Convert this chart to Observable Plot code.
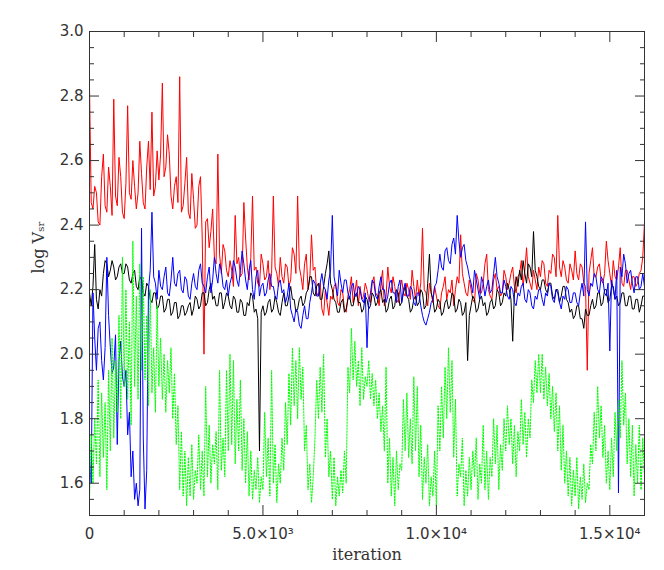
<!DOCTYPE html>
<html>
<head>
<meta charset="utf-8">
<script src="https://cdn.jsdelivr.net/npm/d3@7"></script>
<script src="https://cdn.jsdelivr.net/npm/@observablehq/plot@0.6"></script>
<style>
  html, body { margin: 0; padding: 0; background: #fff; }
  #chart svg { display: block; }
</style>
</head>
<body>
<div id="chart"></div>
<script>
// x grid: iteration number of each stored sample (every 50 iterations)
const iterations = d3.range(0, 16001, 50);

const redTrace = [
 2.83, 2.47, 2.45, 2.52, 2.50, 2.41, 2.40, 2.55, 2.62, 2.46, 2.44, 2.58, 2.52, 2.43, 2.79, 2.49, 2.46, 2.61, 2.55, 2.44,
 2.42, 2.53, 2.77, 2.50, 2.48, 2.60, 2.52, 2.45, 2.50, 2.66, 2.56, 2.47, 2.45, 2.58, 2.66, 2.51, 2.75, 2.49, 2.52, 2.63,
 2.54, 2.62, 2.84, 2.55, 2.58, 2.68, 2.62, 2.49, 2.45, 2.52, 2.55, 2.47, 2.86, 2.44, 2.46, 2.53, 2.61, 2.44, 2.42, 2.56,
 2.48, 2.39, 2.40, 2.52, 2.55, 2.36, 2.00, 2.41, 2.42, 2.33, 2.38, 2.45, 2.30, 2.28, 2.62, 2.31, 2.25, 2.34, 2.32, 2.26,
 2.24, 2.29, 2.26, 2.21, 2.43, 2.28, 2.30, 2.24, 2.25, 2.47, 2.36, 2.27, 2.23, 2.30, 2.49, 2.26, 2.27, 2.22, 2.21, 2.31,
 2.28, 2.23, 2.24, 2.29, 2.20, 2.25, 2.49, 2.27, 2.25, 2.21, 2.30, 2.24, 2.22, 2.28, 2.27, 2.21, 2.23, 2.33, 2.31, 2.25,
 2.49, 2.27, 2.24, 2.20, 2.28, 2.31, 2.20, 2.23, 2.37, 2.26, 2.27, 2.19, 2.18, 2.22, 2.14, 2.12, 2.20, 2.16, 2.12, 2.18,
 2.17, 2.21, 2.22, 2.16, 2.15, 2.20, 2.19, 2.14, 2.13, 2.18, 2.20, 2.24, 2.16, 2.19, 2.23, 2.15, 2.21, 2.17, 2.18, 2.22,
 2.20, 2.17, 2.16, 2.22, 2.24, 2.19, 2.18, 2.15, 2.22, 2.26, 2.15, 2.18, 2.27, 2.21, 2.19, 2.24, 2.21, 2.17, 2.16, 2.20,
 2.23, 2.19, 2.18, 2.22, 2.20, 2.17, 2.26, 2.21, 2.17, 2.23, 2.18, 2.22, 2.39, 2.20, 2.19, 2.15, 2.22, 2.19, 2.16, 2.21,
 2.18, 2.15, 2.14, 2.19, 2.21, 2.24, 2.17, 2.20, 2.19, 2.23, 2.15, 2.20, 2.24, 2.22, 2.37, 2.25, 2.22, 2.19, 2.18, 2.23,
 2.20, 2.17, 2.16, 2.25, 2.23, 2.19, 2.19, 2.22, 2.28, 2.31, 2.20, 2.18, 2.17, 2.23, 2.25, 2.20, 2.21, 2.18, 2.19, 2.26,
 2.24, 2.20, 2.22, 2.25, 2.27, 2.21, 2.19, 2.24, 2.25, 2.29, 2.21, 2.26, 2.33, 2.24, 2.22, 2.20, 2.26, 2.23, 2.20, 2.27,
 2.24, 2.29, 2.28, 2.22, 2.21, 2.26, 2.25, 2.31, 2.30, 2.24, 2.43, 2.27, 2.24, 2.29, 2.27, 2.23, 2.22, 2.28, 2.26, 2.23,
 2.32, 2.25, 2.23, 2.28, 2.27, 2.22, 2.21, 1.95, 2.25, 2.29, 2.33, 2.24, 2.24, 2.27, 2.28, 2.23, 2.22, 2.25, 2.35, 2.29,
 2.25, 2.21, 2.29, 2.24, 2.23, 2.27, 2.33, 2.22, 2.21, 2.26, 2.26, 2.23, 2.20, 2.24, 2.24, 2.21, 2.22, 2.25, 2.26, 2.30,
 2.41];

const blackTrace = [
 2.19, 2.15, 2.21, 2.34, 2.17, 2.14, 2.20, 2.18, 2.25, 2.29, 2.28, 2.24, 2.26, 2.29, 2.27, 2.23, 2.24, 2.27, 2.28, 2.25,
 2.25, 2.28, 2.27, 2.23, 2.22, 2.25, 2.26, 2.21, 2.20, 2.24, 2.23, 2.19, 2.18, 2.22, 2.21, 2.17, 2.16, 2.19, 2.19, 2.14,
 2.15, 2.18, 2.18, 2.13, 2.14, 2.17, 2.17, 2.12, 2.13, 2.16, 2.16, 2.11, 2.12, 2.15, 2.15, 2.12, 2.13, 2.15, 2.16, 2.12,
 2.14, 2.18, 2.17, 2.14, 2.15, 2.19, 2.19, 2.15, 2.16, 2.20, 2.22, 2.17, 2.18, 2.15, 2.15, 2.19, 2.19, 2.14, 2.16, 2.19,
 2.18, 2.15, 2.14, 2.18, 2.17, 2.13, 2.13, 2.17, 2.16, 2.12, 2.12, 2.16, 2.15, 2.19, 2.18, 2.13, 2.14, 2.11, 1.70, 2.13,
 2.15, 2.12, 2.13, 2.16, 2.17, 2.13, 2.14, 2.18, 2.16, 2.13, 2.12, 2.16, 2.19, 2.15, 2.15, 2.18, 2.21, 2.17, 2.17, 2.13,
 2.14, 2.17, 2.18, 2.15, 2.16, 2.19, 2.20, 2.24, 2.24, 2.19, 2.18, 2.21, 2.22, 2.17, 2.17, 2.21, 2.25, 2.28, 2.32, 2.22,
 2.20, 2.17, 2.16, 2.13, 2.13, 2.16, 2.17, 2.13, 2.14, 2.17, 2.18, 2.15, 2.15, 2.18, 2.19, 2.16, 2.16, 2.13, 2.14, 2.18,
 2.17, 2.14, 2.15, 2.19, 2.18, 2.15, 2.16, 2.19, 2.20, 2.16, 2.17, 2.13, 2.14, 2.17, 2.18, 2.14, 2.15, 2.20, 2.19, 2.15,
 2.16, 2.19, 2.21, 2.18, 2.17, 2.13, 2.14, 2.17, 2.18, 2.15, 2.16, 2.20, 2.19, 2.14, 2.15, 2.22, 2.31, 2.19, 2.17, 2.13,
 2.14, 2.17, 2.16, 2.12, 2.13, 2.16, 2.17, 2.14, 2.15, 2.19, 2.18, 2.13, 2.14, 2.17, 2.16, 2.12, 2.13, 2.16, 1.98, 2.12,
 2.15, 2.18, 2.17, 2.13, 2.14, 2.17, 2.18, 2.15, 2.16, 2.12, 2.13, 2.16, 2.17, 2.14, 2.15, 2.20, 2.19, 2.15, 2.16, 2.19,
 2.18, 2.22, 2.20, 2.17, 2.04, 2.19, 2.24, 2.21, 2.26, 2.23, 2.29, 2.25, 2.22, 2.28, 2.27, 2.24, 2.38, 2.26, 2.24, 2.21,
 2.20, 2.23, 2.23, 2.20, 2.19, 2.22, 2.22, 2.18, 2.17, 2.20, 2.20, 2.16, 2.18, 2.21, 2.21, 2.17, 2.16, 2.13, 2.14, 2.11,
 2.12, 2.15, 2.15, 2.11, 2.11, 2.08, 2.14, 2.12, 2.12, 2.15, 2.17, 2.14, 2.15, 2.19, 2.19, 2.15, 2.16, 2.20, 2.20, 2.16,
 2.17, 2.21, 2.21, 2.17, 2.18, 2.15, 2.16, 2.19, 2.19, 2.15, 2.15, 2.18, 2.18, 2.14, 2.14, 2.17, 2.17, 2.13, 2.15, 2.18,
 2.18];

const blueTrace = [
 1.67, 1.60, 2.19, 2.05, 1.95, 2.08, 2.10, 1.98, 1.92, 2.02, 2.30, 2.12, 2.02, 1.94, 1.96, 2.06, 1.72, 1.98, 2.04, 1.93,
 1.90, 1.95, 1.75, 1.82, 1.62, 1.70, 1.55, 1.60, 1.53, 1.58, 2.39, 1.74, 1.52, 1.64, 2.20, 2.26, 2.44, 2.24, 2.22, 2.17,
 2.26, 2.21, 2.20, 2.24, 2.27, 2.19, 2.18, 2.23, 2.30, 2.22, 2.21, 2.25, 2.26, 2.20, 2.19, 2.24, 2.23, 2.18, 2.17, 2.22,
 2.25, 2.21, 2.20, 2.26, 2.28, 2.22, 2.21, 2.19, 2.24, 2.27, 2.19, 2.23, 2.30, 2.25, 2.22, 2.28, 2.26, 2.21, 2.20, 2.23,
 2.18, 2.22, 2.24, 2.29, 2.27, 2.23, 2.21, 2.26, 2.32, 2.28, 2.23, 2.20, 2.26, 2.29, 2.20, 2.17, 2.24, 2.26, 2.18, 2.21,
 2.22, 2.18, 2.19, 2.23, 2.25, 2.21, 2.21, 2.18, 2.17, 2.22, 2.23, 2.19, 2.20, 2.16, 2.18, 2.22, 2.14, 2.12, 2.10, 2.14,
 2.13, 2.09, 2.08, 2.12, 2.15, 2.11, 2.11, 2.16, 2.19, 2.23, 2.22, 2.18, 2.18, 2.22, 2.25, 2.21, 2.20, 2.17, 2.23, 2.26,
 2.43, 2.24, 2.21, 2.18, 2.26, 2.22, 2.19, 2.23, 2.23, 2.19, 2.17, 2.21, 2.22, 2.18, 2.18, 2.21, 2.20, 2.17, 2.16, 2.19,
 2.02, 2.16, 2.19, 2.23, 2.22, 2.18, 2.17, 2.21, 2.24, 2.20, 2.20, 2.16, 2.18, 2.22, 2.23, 2.19, 2.19, 2.16, 2.21, 2.23,
 2.16, 2.20, 2.22, 2.18, 2.18, 2.21, 2.20, 2.16, 2.15, 2.19, 2.19, 2.15, 2.12, 2.10, 2.09, 2.11, 2.13, 2.16, 2.17, 2.21,
 2.22, 2.26, 2.31, 2.27, 2.26, 2.32, 2.33, 2.29, 2.28, 2.34, 2.36, 2.31, 2.43, 2.35, 2.30, 2.33, 2.34, 2.29, 2.27, 2.24,
 2.22, 2.19, 2.26, 2.23, 2.20, 2.17, 2.24, 2.22, 2.18, 2.21, 2.23, 2.19, 2.20, 2.25, 2.30, 2.24, 2.22, 2.19, 2.19, 2.23,
 2.21, 2.18, 2.17, 2.21, 2.20, 2.16, 2.15, 2.19, 2.18, 2.21, 2.22, 2.17, 2.16, 2.20, 2.19, 2.15, 2.14, 2.18, 2.17, 2.20,
 2.20, 2.17, 2.15, 2.19, 2.18, 2.22, 2.21, 2.17, 2.16, 2.20, 2.19, 2.16, 2.14, 2.18, 2.17, 2.21, 2.20, 2.16, 2.16, 2.19,
 2.19, 2.16, 2.15, 2.19, 2.22, 2.18, 2.41, 2.20, 2.18, 2.22, 2.21, 2.25, 2.24, 2.20, 2.19, 2.24, 2.23, 2.19, 2.18, 2.22,
 2.01, 2.23, 2.20, 2.17, 2.26, 1.57, 2.27, 2.24, 2.31, 2.28, 2.22, 2.25, 2.26, 2.22, 2.19, 2.24, 2.24, 2.20, 2.21, 2.25,
 2.21];

const greenTrace = [
 1.55, 1.75, 1.60, 1.80, 1.66, 1.92, 1.62, 1.88, 1.68, 1.85, 1.58, 1.95, 1.70, 2.05, 1.74, 1.98, 1.82, 2.12, 1.80, 2.30,
 1.90, 2.20, 1.86, 2.10, 1.78, 2.35, 1.90, 2.18, 1.86, 2.28, 1.95, 2.24, 1.92, 2.12, 1.84, 2.20, 1.88, 2.02, 1.82, 2.15,
 1.90, 2.05, 1.86, 2.00, 1.82, 1.98, 1.88, 2.02, 1.80, 1.94, 1.72, 1.84, 1.58, 1.76, 1.56, 1.70, 1.53, 1.68, 1.56, 1.72,
 1.55, 1.64, 1.60, 1.75, 1.58, 1.70, 1.56, 1.90, 1.62, 1.78, 1.60, 1.72, 1.66, 1.76, 1.58, 1.95, 1.64, 1.74, 1.62, 1.95,
 1.70, 2.00, 1.72, 1.98, 1.66, 1.86, 1.70, 1.92, 1.64, 1.80, 1.60, 1.76, 1.56, 1.70, 1.55, 1.64, 1.58, 1.68, 1.54, 1.62,
 1.58, 1.82, 1.62, 1.74, 1.56, 1.95, 1.60, 1.72, 1.54, 1.66, 1.60, 1.74, 1.64, 1.85, 1.72, 1.94, 1.78, 2.02, 1.84, 1.98,
 1.80, 2.02, 1.86, 1.96, 1.70, 1.78, 1.58, 1.66, 1.54, 1.62, 1.74, 1.92, 1.80, 1.96, 1.82, 2.00, 1.68, 1.80, 1.62, 1.70,
 1.55, 1.68, 1.53, 1.62, 1.56, 1.64, 1.57, 1.70, 1.60, 1.96, 1.88, 2.08, 1.92, 2.04, 1.90, 1.98, 1.84, 2.02, 1.86, 1.93,
 1.90, 1.98, 1.86, 1.94, 1.84, 1.92, 1.80, 1.88, 1.76, 1.84, 1.70, 1.96, 1.60, 1.74, 1.56, 1.68, 1.53, 1.70, 1.58, 1.66,
 1.64, 1.86, 1.70, 1.88, 1.68, 1.80, 1.66, 1.93, 1.70, 1.90, 1.62, 1.78, 1.55, 1.68, 1.60, 1.72, 1.53, 1.62, 1.56, 1.70,
 1.53, 1.84, 1.70, 1.90, 1.74, 1.96, 1.80, 2.02, 1.82, 1.98, 1.68, 1.86, 1.56, 1.66, 1.62, 1.74, 1.53, 1.64, 1.56, 1.68,
 1.58, 1.70, 1.62, 1.74, 1.55, 1.66, 1.60, 1.78, 1.58, 1.70, 1.55, 1.68, 1.62, 1.80, 1.66, 1.78, 1.58, 1.72, 1.64, 1.80,
 1.70, 1.84, 1.72, 1.80, 1.66, 1.78, 1.62, 1.76, 1.70, 1.86, 1.72, 1.82, 1.68, 1.80, 1.74, 1.92, 1.85, 1.98, 1.88, 2.00,
 1.88, 2.00, 1.86, 1.96, 1.84, 1.94, 1.80, 1.90, 1.76, 1.88, 1.70, 1.84, 1.64, 1.78, 1.60, 1.70, 1.56, 1.68, 1.53, 1.64,
 1.56, 1.68, 1.52, 1.62, 1.55, 1.66, 1.54, 1.60, 1.58, 1.72, 1.66, 1.82, 1.70, 1.90, 1.74, 1.84, 1.68, 1.78, 1.60, 1.70,
 1.58, 1.74, 1.62, 1.82, 1.70, 1.86, 1.74, 1.98, 1.78, 1.88, 1.66, 1.80, 1.62, 1.78, 1.56, 1.72, 1.60, 1.78, 1.58, 1.74,
 1.62];

// axis ticks and labels
const xMajor = [0, 5000, 10000, 15000];
const xMajorLabels = ["0", "5.0×10³", "1.0×10⁴", "1.5×10⁴"];
const xMinor = [1000, 2000, 3000, 4000, 6000, 7000, 8000, 9000, 11000, 12000, 13000, 14000, 16000];
const yMajor = [1.6, 1.8, 2.0, 2.2, 2.4, 2.6, 2.8, 3.0];
const yMajorLabels = ["1.6", "1.8", "2.0", "2.2", "2.4", "2.6", "2.8", "3.0"];
const yMinor = [1.55, 1.65, 1.7, 1.75, 1.85, 1.9, 1.95, 2.05, 2.1, 2.15, 2.25, 2.3, 2.35, 2.45, 2.5, 2.55, 2.65, 2.7, 2.75, 2.85, 2.9, 2.95];
const xTitle = "iteration";
const yTitle = "log Vₛᵣ";

const axisColor = "#333";
const tickFont = "DejaVu Sans";
const titleFont = "DejaVu Serif";

const traceLine = (vals, color, extra = {}) =>
  Plot.line(vals, {x: (d, i) => iterations[i], y: d => d, stroke: color, strokeWidth: 1, clip: true, ...extra});

const noText = () => "";

const chart = Plot.plot({
  width: 664,
  height: 570,
  marginLeft: 89,
  marginRight: 20,
  marginTop: 31,
  marginBottom: 55,
  x: {domain: [0, 16000]},
  y: {domain: [1.5, 3.0]},
  style: {background: "#fff", color: axisColor},
  marks: [
    traceLine(redTrace, "#ff0000"),
    traceLine(blackTrace, "#000000"),
    traceLine(blueTrace, "#0000ff"),
    traceLine(greenTrace, "#00ff00", {strokeDasharray: "1.5,1.5"}),
    Plot.frame({stroke: axisColor}),
    // inward ticks, all four sides
    Plot.axisX({anchor: "bottom", ticks: xMajor, tickSize: -10, tickFormat: noText, label: null, stroke: axisColor}),
    Plot.axisX({anchor: "bottom", ticks: xMinor, tickSize: -5, tickFormat: noText, label: null, stroke: axisColor}),
    Plot.axisX({anchor: "top", ticks: xMajor, tickSize: -10, tickFormat: noText, label: null, stroke: axisColor}),
    Plot.axisX({anchor: "top", ticks: xMinor, tickSize: -5, tickFormat: noText, label: null, stroke: axisColor}),
    Plot.axisY({anchor: "left", ticks: yMajor, tickSize: -10, tickFormat: noText, label: null, stroke: axisColor}),
    Plot.axisY({anchor: "left", ticks: yMinor, tickSize: -5, tickFormat: noText, label: null, stroke: axisColor}),
    Plot.axisY({anchor: "right", ticks: yMajor, tickSize: -10, tickFormat: noText, label: null, stroke: axisColor}),
    Plot.axisY({anchor: "right", ticks: yMinor, tickSize: -5, tickFormat: noText, label: null, stroke: axisColor}),
    // tick labels
    Plot.axisX({anchor: "bottom", ticks: xMajor, tickSize: 0, tickPadding: 13, label: null,
      tickFormat: d => xMajorLabels[xMajor.indexOf(d)], fontSize: 15, fontFamily: tickFont, fill: axisColor}),
    Plot.axisY({anchor: "left", ticks: yMajor, tickSize: 0, tickPadding: 6, label: null,
      tickFormat: d => yMajorLabels[yMajor.findIndex(v => Math.abs(v - d) < 1e-9)], fontSize: 15, fontFamily: tickFont, fill: axisColor}),
    // axis titles
    Plot.text([xTitle], {frameAnchor: "bottom", dy: 39, text: d => d, fontSize: 16, fontFamily: titleFont, fill: axisColor, lineAnchor: "middle"}),
    Plot.text([yTitle], {frameAnchor: "left", dx: -51, rotate: -90, text: d => d, fontSize: 16, fontFamily: titleFont, fill: axisColor, lineAnchor: "middle"})
  ]
});

document.getElementById("chart").appendChild(chart);
</script>
</body>
</html>
